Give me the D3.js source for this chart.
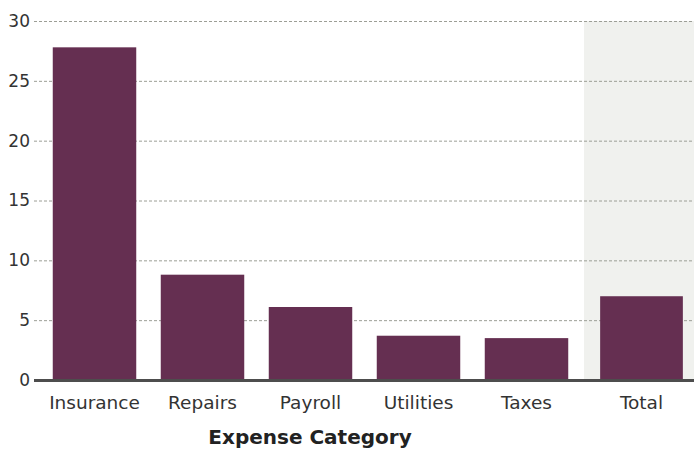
<!DOCTYPE html>
<html><head><meta charset="utf-8">
<script src="https://cdn.jsdelivr.net/npm/d3@7"></script>
<style>
html,body{margin:0;padding:0;background:#fff;}
text{font-family:"DejaVu Sans","Open Sans",sans-serif;}
</style></head>
<body>
<svg id="chart" width="694" height="449"></svg>
<script>
const categories = ["Insurance","Repairs","Payroll","Utilities","Taxes"];
const values = [27.8, 8.8, 6.1, 3.7, 3.5];
const totalLabel = "Total";
const totalValue = 7.0;
const yTicks = [0,5,10,15,20,25,30];
const xTitle = "Expense Category";

const svg = d3.select("#chart");
const plotLeft = 34, plotRight = 694, plotTop = 21, plotBottom = 380;
const y = d3.scaleLinear().domain([0,30]).range([plotBottom, plotTop]);
const x = d3.scaleBand().domain(categories).range([40.5, 580.5]).paddingInner(0.227).paddingOuter(0.1135);
const xt = d3.scaleBand().domain([totalLabel]).range([588, 695]).paddingInner(0.227).paddingOuter(0.1135);
const barColor = "#652f51";

// highlight band for total
svg.append("rect").attr("x", 584).attr("y", y(30)).attr("width", plotRight-584).attr("height", y(0)-y(30)).attr("fill", "#f0f1ee");

// gridlines
svg.append("g").selectAll("line").data(yTicks.filter(d=>d>0)).join("line")
  .attr("x1", plotLeft).attr("x2", plotRight).attr("y1", d=>y(d)+0.5).attr("y2", d=>y(d)+0.5)
  .attr("stroke", "#9c9e96").attr("stroke-width", 1).attr("stroke-dasharray", "3,2");

// y axis labels
const yAxis = d3.axisLeft(y).tickValues(yTicks).tickSize(0).tickPadding(4).tickFormat(d3.format("d"));
const gy = svg.append("g").attr("transform", `translate(${plotLeft},0)`).call(yAxis);
gy.select(".domain").remove();
gy.selectAll(".tick text").attr("font-size", 17).attr("fill", "#333");

// bars
svg.append("g").selectAll("rect").data(categories).join("rect")
  .attr("x", d=>x(d)).attr("width", x.bandwidth())
  .attr("y", (d,i)=>y(values[i])).attr("height", (d,i)=>y(0)-y(values[i]))
  .attr("fill", barColor);
svg.append("rect").attr("x", xt(totalLabel)).attr("width", xt.bandwidth())
  .attr("y", y(totalValue)).attr("height", y(0)-y(totalValue)).attr("fill", barColor);

// baseline
svg.append("line").attr("x1", plotLeft).attr("x2", plotRight).attr("y1", y(0)+0.5).attr("y2", y(0)+0.5)
  .attr("stroke", "#4d4d4d").attr("stroke-width", 3);

// x labels
const gx = svg.append("g").attr("transform", `translate(0,${plotBottom})`).call(d3.axisBottom(x).tickSize(0).tickPadding(16));
gx.select(".domain").remove();
gx.selectAll(".tick text").attr("font-size", 18.5).attr("fill", "#333");
const gx2 = svg.append("g").attr("transform", `translate(0,${plotBottom})`).call(d3.axisBottom(xt).tickSize(0).tickPadding(16));
gx2.select(".domain").remove();
gx2.selectAll(".tick text").attr("font-size", 18.5).attr("fill", "#333");

svg.append("text").attr("x", 310).attr("y", 444).attr("text-anchor","middle")
  .attr("font-size", 20).attr("font-weight", "bold").attr("fill", "#222").text(xTitle);
</script>
</body></html>
